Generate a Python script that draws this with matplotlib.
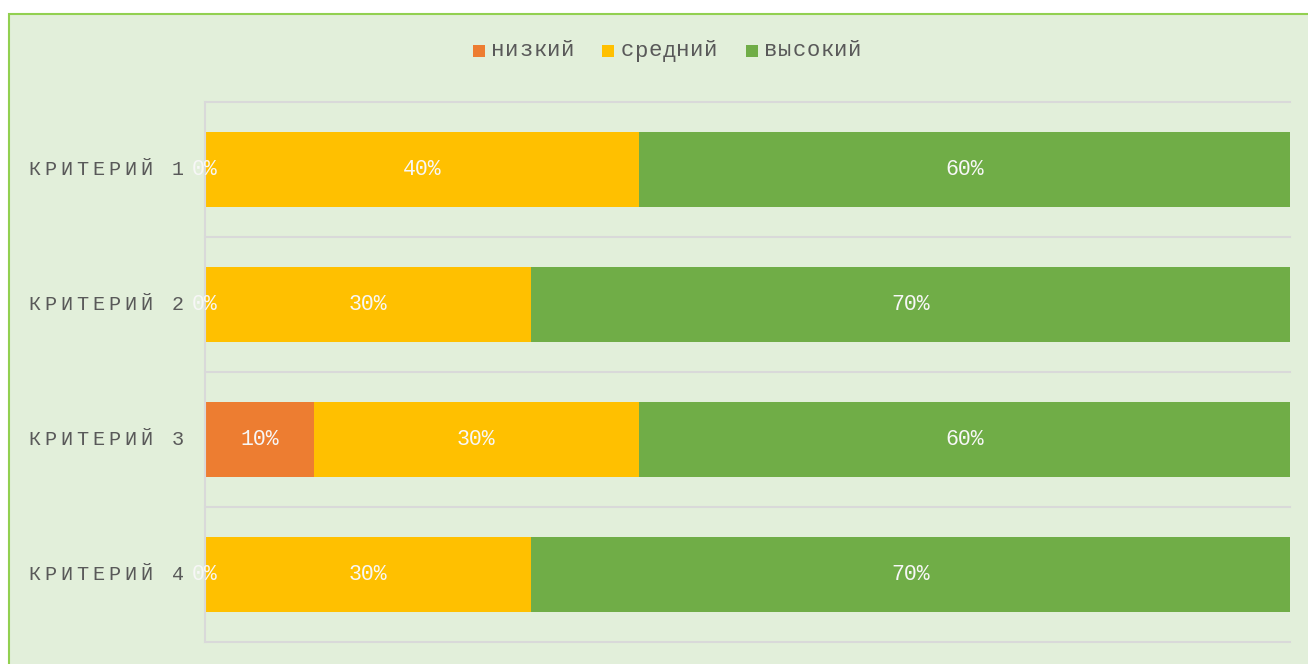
import matplotlib
matplotlib.use('Agg')
import matplotlib.pyplot as plt
from matplotlib.patches import Rectangle
from matplotlib.transforms import offset_copy

# chart data
categories = ['КРИТЕРИЙ 1', 'КРИТЕРИЙ 2', 'КРИТЕРИЙ 3', 'КРИТЕРИЙ 4']
series = ['низкий', 'средний', 'высокий']
low = [0, 0, 10, 0]
mid = [40, 30, 30, 30]
high = [60, 70, 60, 70]
colors = ['#ED7D31', '#FFC000', '#70AD47']

plt.rcParams['font.family'] = ['Liberation Mono', 'DejaVu Sans Mono']

W, H = 1308, 664
fig = plt.figure(figsize=(W / 100, H / 100), dpi=100)
fig.patch.set_facecolor('white')

# green chart panel (cut off at right and bottom edges)
panel = Rectangle((9 / W, -0.1), 1.2, (H - 14) / H + 0.1, transform=fig.transFigure,
                  facecolor='#E2EFDA', edgecolor='#92D050', linewidth=1.5, zorder=-10)
fig.patches.append(panel)

ax = fig.add_axes([205 / W, 1 - 642 / H, (1290 - 205) / W, (642 - 102) / H])
ax.patch.set_visible(False)

ypos = list(range(len(categories)))[::-1]
left = [0] * len(categories)
for vals, name, c in zip([low, mid, high], series, colors):
    frac = [v / 100 for v in vals]
    bars = ax.barh(ypos, frac, left=left, height=0.556, color=c, label=name, zorder=2)
    ax.bar_label(bars, labels=[f'{v}%' for v in vals], label_type='center',
                 color='#F7F7F7', fontsize=15.5)
    left = [l + f for l, f in zip(left, frac)]

ax.set_xlim(0, 1)
ax.set_ylim(-0.5, len(categories) - 0.5)
ax.set_xticks([])
ax.set_yticks([])
for b in range(len(categories) + 1):
    ax.axhline(b - 0.5, color='#D9D9D9', linewidth=1.5, clip_on=False, zorder=1)
for s in ['top', 'right', 'bottom']:
    ax.spines[s].set_visible(False)
ax.spines['left'].set_color('#D9D9D9')
ax.spines['left'].set_linewidth(1.5)

# category labels with letter spacing
tr = ax.get_yaxis_transform()
for yp, cat in zip(ypos, categories):
    n = len(cat)
    for i, ch in enumerate(cat):
        dx = -27 - (n - 1 - i) * 16
        ax.text(0, yp, ch, transform=offset_copy(tr, fig=fig, x=dx, y=0, units='dots'),
                ha='center', va='center', fontsize=14.5, color='#595959')

# legend on top
legend_x = [473, 602, 746]
for name, c, x0 in zip(series, colors, legend_x):
    fig.patches.append(Rectangle((x0 / W, 1 - 57 / H), 12 / W, 12 / H, transform=fig.transFigure,
                                 facecolor=c, edgecolor='none'))
    for i, ch in enumerate(name):
        fig.text((x0 + 25 + i * 14) / W, 1 - 51 / H, ch, ha='center', va='center',
                 fontsize=16, color='#595959')

fig.savefig('out.png', dpi=100)
